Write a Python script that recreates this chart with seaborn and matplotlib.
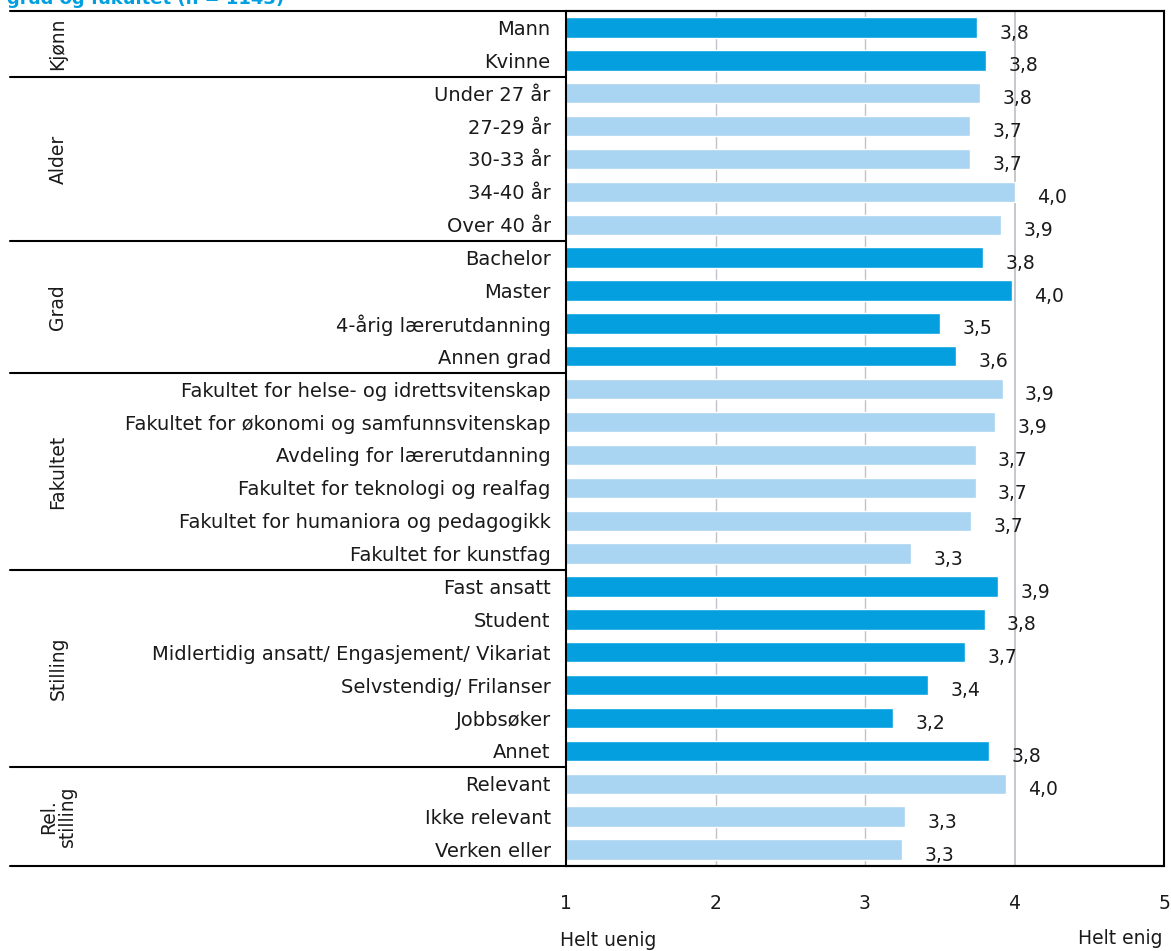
import numpy as np
import pandas as pd
import matplotlib
matplotlib.use("Agg")
import matplotlib.pyplot as plt
import matplotlib.transforms as mtransforms
import seaborn as sns

### DATA ###
groups = ["Kjønn", "Alder", "Grad", "Fakultet", "Stilling", "Rel.\nstilling"]
group_sizes = [2, 5, 4, 6, 6, 3]

categories = [
    "Mann", "Kvinne",
    "Under 27 år", "27-29 år", "30-33 år", "34-40 år", "Over 40 år",
    "Bachelor", "Master", "4-årig lærerutdanning", "Annen grad",
    "Fakultet for helse- og idrettsvitenskap",
    "Fakultet for økonomi og samfunnsvitenskap",
    "Avdeling for lærerutdanning",
    "Fakultet for teknologi og realfag",
    "Fakultet for humaniora og pedagogikk",
    "Fakultet for kunstfag",
    "Fast ansatt", "Student",
    "Midlertidig ansatt/ Engasjement/ Vikariat",
    "Selvstendig/ Frilanser", "Jobbsøker", "Annet",
    "Relevant", "Ikke relevant", "Verken eller",
]
values = [
    3.75, 3.81,
    3.77, 3.70, 3.70, 4.00, 3.91,
    3.79, 3.98, 3.50, 3.61,
    3.92, 3.87, 3.74, 3.74, 3.71, 3.31,
    3.89, 3.80, 3.67, 3.42, 3.19, 3.83,
    3.94, 3.27, 3.25,
]
value_labels = [
    "3,8", "3,8",
    "3,8", "3,7", "3,7", "4,0", "3,9",
    "3,8", "4,0", "3,5", "3,6",
    "3,9", "3,9", "3,7", "3,7", "3,7", "3,3",
    "3,9", "3,8", "3,7", "3,4", "3,2", "3,8",
    "4,0", "3,3", "3,3",
]
x_ticks = [1, 2, 3, 4, 5]
title = "grad og fakultet (n = 1143)"

dark = "#039FDF"
light = "#A9D4F2"
fs = 13.5

# alternating colour per group
colors = []
for i, n in enumerate(group_sizes):
    colors += [dark if i % 2 == 0 else light] * n

df = pd.DataFrame({"cat": categories, "val": values})

sns.set_style("white")
plt.rcParams["font.family"] = ["DejaVu Sans"]

fig = plt.figure(figsize=(11.71, 9.51), dpi=100)
ax = fig.add_axes([566 / 1171, 1 - 866 / 951, 598 / 1171, 855 / 951])

sns.barplot(data=df, x="val", y="cat", hue="cat", palette=colors, legend=False,
            orient="h", width=0.62, ax=ax, saturation=1)

ax.set_xlim(1, 5)
ax.set_ylim(len(categories) - 0.5, -0.5)

# grid
for xv in [2, 3, 4]:
    ax.axvline(xv, color="#BFC3C8", lw=1.3 if xv == 4 else 1.0, zorder=0)
ax.set_axisbelow(True)

# value labels
for i, (v, t) in enumerate(zip(values, value_labels)):
    ax.text(v + 0.15, i + 0.17, t, va="center", ha="left", fontsize=fs, color="#1a1a1a")

# axes styling
for s in ax.spines.values():
    s.set_color("black")
    s.set_linewidth(1.5)
ax.set_xticks(x_ticks)
ax.set_xticklabels([str(t) for t in x_ticks], fontsize=fs, color="#1a1a1a")
ax.tick_params(axis="x", length=0, pad=20)
ax.tick_params(axis="y", length=0, pad=11, labelsize=14, labelcolor="#1a1a1a")
ax.set_xlabel("")
ax.set_ylabel("")

fig.text(608 / 1171, 1 - 940 / 951, "Helt uenig", ha="center", va="center", fontsize=fs, color="#1a1a1a")
fig.text(1120 / 1171, 1 - 938 / 951, "Helt enig", ha="center", va="center", fontsize=fs, color="#1a1a1a")

# group separators and labels
trans = mtransforms.blended_transform_factory(fig.transFigure, ax.transData)
x0 = 10 / 1171
x_ax = 566 / 1171
ax.plot([x0, 1164 / 1171], [-0.5, -0.5], transform=trans, color="black", lw=1.5, clip_on=False)
ax.plot([x0, 1164 / 1171], [len(categories) - 0.5] * 2, transform=trans, color="black", lw=1.5, clip_on=False)
start = 0
for g, n in zip(groups, group_sizes):
    end = start + n
    if end < len(categories):
        ax.plot([x0, x_ax], [end - 0.5, end - 0.5], transform=trans, color="black", lw=1.5, clip_on=False)
    ax.text(58 / 1171, (start + end - 1) / 2, g, transform=trans, rotation=90,
            ha="center", va="center", fontsize=fs, linespacing=1.0, color="#1a1a1a")
    start = end

# title, cut off at the top of the picture as in the source
fig.text(0.006, 1 - 4 / 951, title, ha="left", va="baseline", fontsize=13,
         fontweight="bold", color="#00A0E0")

fig.savefig("out.png", dpi=100)
